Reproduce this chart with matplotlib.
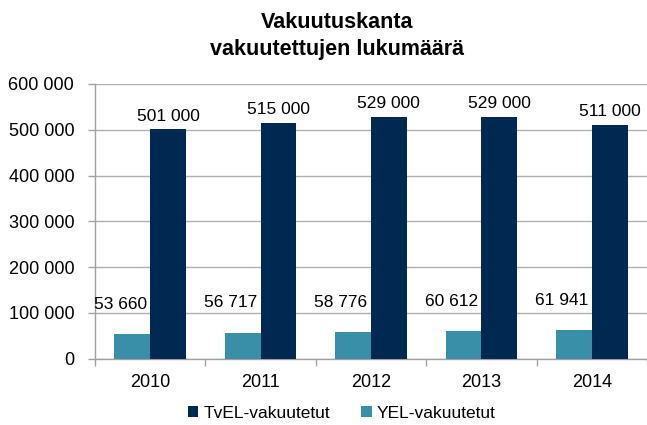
import matplotlib
matplotlib.use("Agg")
import matplotlib.pyplot as plt
import numpy as np

years = ["2010", "2011", "2012", "2013", "2014"]
tyel = [501000, 515000, 529000, 529000, 511000]
yel = [53660, 56717, 58776, 60612, 61941]
yticks = [0, 100000, 200000, 300000, 400000, 500000, 600000]

dark = "#002850"
teal = "#3a8fa8"


def fmt(v):
    return f"{v:,}".replace(",", " ")


plt.rcParams['font.family'] = ['Liberation Sans', 'DejaVu Sans']

fig = plt.figure(figsize=(6.47, 4.25), dpi=100)
# axes runs past the right edge, like in the original screenshot
W, H = 647, 425
left, right, top, bottom = 95, 647, 84, 358.7
ax = fig.add_axes([left / W, (H - bottom) / H, (right - left) / W, (bottom - top) / H])

x = np.arange(len(years))
bw = 0.324
b1 = ax.bar(x - bw / 2, yel, bw, color=teal, label="YEL-vakuutetut", zorder=3)
b2 = ax.bar(x + bw / 2, tyel, bw, color=dark, label="TvEL-vakuutetut", zorder=3)

ax.set_ylim(0, 600000)
ax.set_xlim(-0.5, -0.5 + (right - left) / 113.3)
ax.set_yticks(yticks)
ax.set_yticklabels([fmt(v) for v in yticks], fontsize=13)
ax.set_xticks(x)
ax.set_xticklabels(years, fontsize=13)
ax.tick_params(axis="x", length=0, pad=11)
ax.tick_params(axis="y", length=5, color="#a0a0a0", width=1, pad=10)
# category boundary tick marks
ax.set_xticks(np.arange(len(years) + 1) - 0.5, minor=True)
ax.tick_params(axis="x", which="minor", length=5, color="#a0a0a0", width=1)

ax.grid(axis="y", color="#b0b0b0", linewidth=1, zorder=0)
for s in ["top", "right"]:
    ax.spines[s].set_visible(False)
for s in ["left", "bottom"]:
    ax.spines[s].set_color("#a0a0a0")
    ax.spines[s].set_linewidth(1)

for xi, v in zip(x, tyel):
    ax.annotate(fmt(v), (xi + bw / 2, v), xytext=(0, 4), textcoords="offset points",
                ha="center", va="bottom", fontsize=12.5)
for xi, v in zip(x, yel):
    ax.annotate(fmt(v), (xi - bw / 2 - 0.11, v + 65000), ha="center", va="center",
                fontsize=12.5)

fig.text(0.521, 0.946, "Vakuutuskanta", ha="center", va="center", fontsize=15.5,
         fontweight="bold")
fig.text(0.521, 0.884, "vakuutettujen lukumäärä", ha="center", va="center",
         fontsize=15.5, fontweight="bold")

handles = [b2, b1]
fig.legend(handles, [h.get_label() for h in handles], loc="center",
           bbox_to_anchor=(0.528, 0.028), ncol=2, frameon=False, fontsize=12.5,
           handlelength=0.6, handleheight=0.6, handletextpad=0.3, columnspacing=1.8)

fig.savefig("out.png", dpi=100)
